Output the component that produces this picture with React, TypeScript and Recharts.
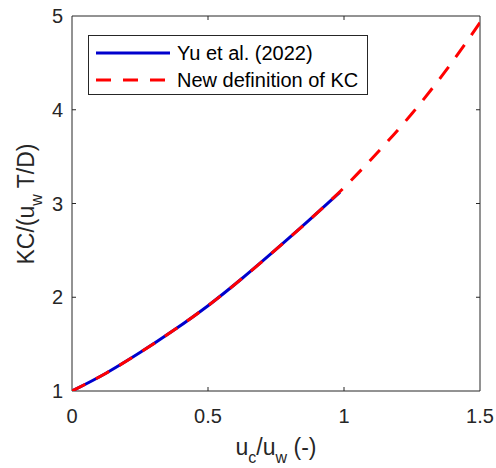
import * as React from "react";
import {
  LineChart,
  Line,
  XAxis,
  YAxis,
  ReferenceArea,
  Legend,
  Label,
} from "recharts";

// u_c/u_w sample points for each curve
const xNew = [0, 0.125, 0.25, 0.375, 0.5, 0.625, 0.75, 0.875, 1.0, 1.125, 1.25, 1.375, 1.5];
const kcNew = [1.0, 1.19, 1.41, 1.65, 1.91, 2.2, 2.51, 2.83, 3.17, 3.55, 3.96, 4.42, 4.93];

const xYu = [0, 0.125, 0.25, 0.375, 0.5, 0.625, 0.75, 0.875, 0.985];
const kcYu = [1.0, 1.19, 1.41, 1.65, 1.91, 2.2, 2.51, 2.83, 3.12];

const xTicks = [0, 0.5, 1, 1.5];
const yTicks = [1, 2, 3, 4, 5];

const seriesNames = ["Yu et al. (2022)", "New definition of KC"];

const W = 496;
const H = 468;
const PLOT = { left: 72, right: 480, top: 16, bottom: 391 };
const AXIS = "#262626";
const BLUE = "#0000cd";
const RED = "#ff0000";
const DASH = "15 12";
const FONT = "'Liberation Sans', Arial, sans-serif";

const newData = xNew.map((x, i) => ({ x, kc: kcNew[i] }));
const yuData = xYu.map((x, i) => ({ x, kc: kcYu[i] }));

function XTick(props: any) {
  const { x, payload } = props;
  const v = payload.value;
  const inner = v > xTicks[0] && v < xTicks[xTicks.length - 1];
  return (
    <g>
      {inner && <line x1={x} x2={x} y1={PLOT.bottom} y2={PLOT.bottom - 4} stroke={AXIS} />}
      {inner && <line x1={x} x2={x} y1={PLOT.top} y2={PLOT.top + 4} stroke={AXIS} />}
      <text x={x} y={PLOT.bottom + 32} textAnchor="middle" fill={AXIS} fontSize={20} fontFamily={FONT}>
        {String(v)}
      </text>
    </g>
  );
}

function YTick(props: any) {
  const { y, payload } = props;
  const v = payload.value;
  const inner = v > yTicks[0] && v < yTicks[yTicks.length - 1];
  return (
    <g>
      {inner && <line x1={PLOT.left} x2={PLOT.left + 4} y1={y} y2={y} stroke={AXIS} />}
      {inner && <line x1={PLOT.right} x2={PLOT.right - 4} y1={y} y2={y} stroke={AXIS} />}
      <text x={PLOT.left - 9} y={y + 7} textAnchor="end" fill={AXIS} fontSize={20} fontFamily={FONT}>
        {String(v)}
      </text>
    </g>
  );
}

function XLabel() {
  return (
    <text x={276} y={455} textAnchor="middle" fill={AXIS} fontSize={23} fontFamily={FONT}>
      u
      <tspan fontSize={16} dy={8}>c</tspan>
      <tspan dy={-8}>/u</tspan>
      <tspan fontSize={16} dy={8}>w</tspan>
      <tspan dy={-8}> (-)</tspan>
    </text>
  );
}

function YLabel() {
  const cx = 34;
  const cy = 204;
  return (
    <text
      x={cx}
      y={cy}
      transform={`rotate(-90, ${cx}, ${cy})`}
      textAnchor="middle"
      fill={AXIS}
      fontSize={23}
      fontFamily={FONT}
    >
      KC/(u
      <tspan fontSize={16} dy={8}>w</tspan>
      <tspan dy={-8}> T/D)</tspan>
    </text>
  );
}

function LegendBox() {
  const rows = [
    { name: seriesNames[0], color: BLUE, dash: undefined as string | undefined },
    { name: seriesNames[1], color: RED, dash: DASH },
  ];
  return (
    <div
      style={{
        width: 278,
        height: 58,
        border: `1px solid ${AXIS}`,
        background: "#fff",
        fontFamily: FONT,
        fontSize: 20,
        color: "#000",
        position: "relative",
      }}
    >
      {rows.map((r, i) => (
        <div
          key={r.name}
          style={{
            position: "absolute",
            left: 7,
            top: 5 + i * 27,
            height: 24,
            display: "flex",
            alignItems: "center",
            whiteSpace: "nowrap",
          }}
        >
          <svg width={74} height={24} style={{ display: "block" }}>
            <line x1={0} x2={74} y1={12} y2={12} stroke={r.color} strokeWidth={3} strokeDasharray={r.dash} />
          </svg>
          <span style={{ marginLeft: 7, lineHeight: "24px" }}>{r.name}</span>
        </div>
      ))}
    </div>
  );
}

export default function App() {
  return (
    <div style={{ position: "absolute", left: 0, top: 0, width: W, height: H, background: "#fff" }}>
      <LineChart width={W} height={H} margin={{ top: PLOT.top, right: W - PLOT.right, left: 0, bottom: 0 }}>
        <XAxis
          type="number"
          dataKey="x"
          domain={[0, 1.5]}
          ticks={xTicks}
          height={H - PLOT.bottom}
          axisLine={false}
          tickLine={false}
          tick={<XTick />}
          allowDataOverflow
        >
          <Label content={<XLabel />} />
        </XAxis>
        <YAxis
          type="number"
          dataKey="kc"
          domain={[1, 5]}
          ticks={yTicks}
          width={PLOT.left}
          axisLine={false}
          tickLine={false}
          tick={<YTick />}
          allowDataOverflow
        >
          <Label content={<YLabel />} />
        </YAxis>
        <ReferenceArea x1={0} x2={1.5} y1={1} y2={5} fill="none" stroke={AXIS} strokeWidth={1} ifOverflow="visible" />
        <Legend
          layout="horizontal"
          verticalAlign="middle"
          align="center"
          content={<LegendBox />}
          wrapperStyle={{ left: 88, top: 35, width: 280, height: 60 }}
        />
        <Line
          data={yuData}
          dataKey="kc"
          type="monotone"
          stroke={BLUE}
          strokeWidth={3}
          dot={false}
          isAnimationActive={false}
          name={seriesNames[0]}
        />
        <Line
          data={newData}
          dataKey="kc"
          type="monotone"
          stroke={RED}
          strokeWidth={3}
          strokeDasharray={DASH}
          dot={false}
          isAnimationActive={false}
          name={seriesNames[1]}
        />
      </LineChart>
    </div>
  );
}
